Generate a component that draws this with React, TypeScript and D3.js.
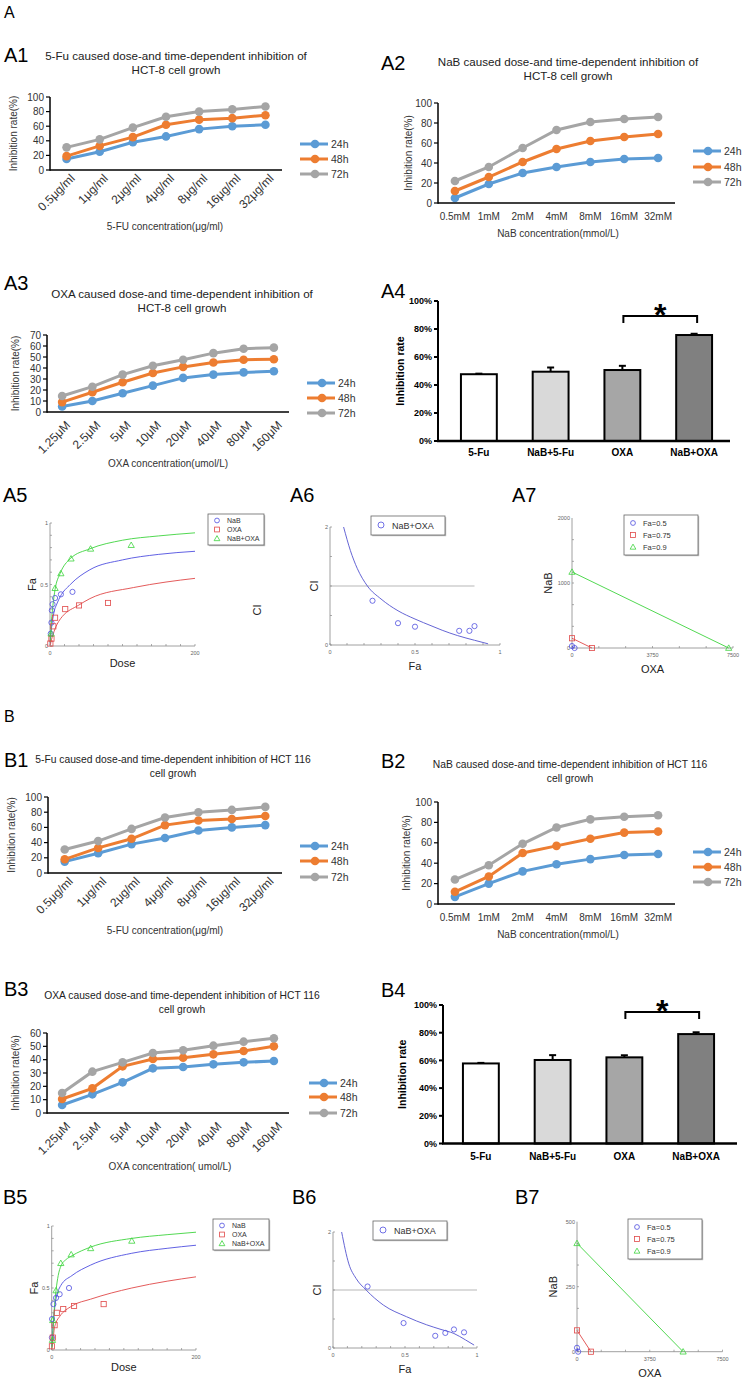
import React from "react";
import * as d3 from "d3";

const FONT = "'Liberation Sans', Arial, Helvetica, sans-serif";

// ---- line chart data (inhibition rate, %) ----
const times = ["24h", "48h", "72h"];
const timeColors = ["#5b9bd5", "#ed7d31", "#a5a5a5"];

const fuDoses = ["0.5μg/ml", "1μg/ml", "2μg/ml", "4μg/ml", "8μg/ml", "16μg/ml", "32μg/ml"];
const nabDoses = ["0.5mM", "1mM", "2mM", "4mM", "8mM", "16mM", "32mM"];
const oxaDoses = ["1.25μM", "2.5μM", "5μM", "10μM", "20μM", "40μM", "80μM", "160μM"];

const a1_24h = [15, 25, 38, 46, 56, 60, 62];
const a1_48h = [19, 33, 45, 62, 69, 71, 75];
const a1_72h = [31, 42, 58, 73, 80, 83, 87];

const a2_24h = [5, 19, 30, 36, 41, 44, 45];
const a2_48h = [12, 26, 41, 54, 62, 66, 69];
const a2_72h = [22, 36, 55, 73, 81, 84, 86];

const a3_24h = [5, 10, 17, 24, 31, 34, 36, 37];
const a3_48h = [9, 18, 27, 35.5, 41, 45, 47.5, 48];
const a3_72h = [14.5, 23, 34, 42, 47.5, 53.5, 57.5, 58.5];

const b1_24h = [15, 26, 38, 46, 56, 60, 63];
const b1_48h = [18, 33, 45, 63, 69, 71, 75];
const b1_72h = [31, 42, 58, 73, 80, 83, 87];

const b2_24h = [7, 20, 32, 39, 44, 48, 49];
const b2_48h = [12, 27, 50, 57, 64, 70, 71];
const b2_72h = [24, 38, 59, 75, 83, 85.5, 87];

const b3_24h = [6, 14, 23, 33.5, 34.5, 36.5, 38, 39];
const b3_48h = [10.5, 18.5, 35, 40.5, 41.5, 44, 46.5, 50];
const b3_72h = [15, 31, 38, 45, 47, 50.5, 53.5, 56];

// ---- bar chart data (inhibition rate, fraction) ----
const combos = ["5-Fu", "NaB+5-Fu", "OXA", "NaB+OXA"];
const comboFills = ["#ffffff", "#d9d9d9", "#a6a6a6", "#808080"];
const a4Values = [0.477, 0.495, 0.507, 0.757];
const a4Errors = [0.004, 0.03, 0.03, 0.009];
const b4Values = [0.578, 0.603, 0.622, 0.79];
const b4Errors = [0.004, 0.035, 0.015, 0.013];

// ---- CompuSyn dose-effect data [dose, Fa] ----
const a5NabCurve = [[0.3, 0.02], [1, 0.08], [2, 0.14], [5, 0.26], [10, 0.35], [14, 0.4], [28, 0.5], [55, 0.62], [100, 0.7], [150, 0.745], [200, 0.77]];
const a5OxaCurve = [[0.5, 0.01], [2, 0.05], [4, 0.09], [7, 0.14], [12, 0.2], [17, 0.24], [39, 0.33], [55, 0.385], [115, 0.475], [160, 0.52], [200, 0.55]];
const a5ComboCurve = [[0.3, 0.03], [1, 0.11], [2, 0.2], [4, 0.33], [7, 0.46], [14, 0.59], [28, 0.71], [55, 0.79], [100, 0.86], [150, 0.895], [200, 0.92]];
const a5NabPts = [[1, 0.1], [2, 0.19], [2.5, 0.29], [3.5, 0.34], [7, 0.39], [15, 0.42], [31, 0.44]];
const a5OxaPts = [[0.5, 0.02], [2, 0.06], [4.6, 0.16], [7, 0.23], [21, 0.3], [40, 0.33], [80, 0.35]];
const a5ComboPts = [[1.5, 0.1], [7, 0.47], [15, 0.59], [29, 0.71], [56, 0.79], [112, 0.82]];

const b5NabCurve = [[0.3, 0.03], [1, 0.11], [2, 0.2], [3.5, 0.3], [5, 0.38], [12.6, 0.52], [28, 0.6], [54, 0.685], [111, 0.78], [160, 0.82], [200, 0.845]];
const b5OxaCurve = [[0.3, 0.01], [1, 0.04], [2, 0.09], [3.3, 0.16], [6, 0.22], [11, 0.27], [28, 0.355], [54, 0.41], [111, 0.5], [160, 0.555], [200, 0.59]];
const b5ComboCurve = [[0.3, 0.02], [1, 0.08], [3, 0.28], [6, 0.48], [9, 0.6], [13, 0.68], [20, 0.73], [28, 0.76], [54, 0.83], [111, 0.9], [160, 0.93], [200, 0.95]];
const b5NabPts = [[0.3, 0.1], [0.5, 0.25], [2.4, 0.37], [6, 0.42], [11, 0.45], [24, 0.5]];
const b5OxaPts = [[0.3, 0.03], [1.5, 0.1], [4, 0.2], [7, 0.3], [16, 0.33], [31, 0.355], [72, 0.37]];
const b5ComboPts = [[1, 0.08], [1.4, 0.24], [6, 0.48], [12.6, 0.7], [27, 0.77], [54, 0.82], [111, 0.88]];

// ---- CI data [Fa, CI] ----
const a6Curve = [[0.08, 2.0], [0.12, 1.6], [0.16, 1.3], [0.22, 1.0], [0.3, 0.78], [0.4, 0.58], [0.5, 0.44], [0.6, 0.32], [0.66, 0.25], [0.75, 0.16], [0.85, 0.08], [0.93, 0.02]];
const a6Pts = [[0.25, 0.75], [0.4, 0.37], [0.5, 0.31], [0.76, 0.24], [0.82, 0.24], [0.85, 0.32]];
const b6Curve = [[0.06, 2.0], [0.11, 1.45], [0.16, 1.2], [0.23, 1.0], [0.35, 0.74], [0.51, 0.54], [0.65, 0.4], [0.75, 0.32], [0.84, 0.25], [0.92, 0.14], [0.98, 0.05]];
const b6Pts = [[0.24, 1.06], [0.49, 0.43], [0.71, 0.21], [0.78, 0.26], [0.84, 0.32], [0.91, 0.27]];

// ---- isobologram data: doses for Fa = 0.5, 0.75, 0.9 ----
const isoLabels = ["Fa=0.5", "Fa=0.75", "Fa=0.9"];
const a7Nab = [30, 150, 1170];
const a7Oxa = [120, 930, 7300];
const b7Nab = [15, 82, 417];
const b7Oxa = [60, 720, 5470];

const cBlue = "#4f4fe0";
const cRed = "#e04848";
const cGreen = "#3ed43e";
const shapes = ["circle", "square", "triangle"];
const csColors = [cBlue, cRed, cGreen];
const csNames = ["NaB", "OXA", "NaB+OXA"];

function Label({ x, y, text, size = 20 }) {
    return (
        <text x={x} y={y} fontSize={size} fontFamily={FONT} fill="#000">
            {text}
        </text>
    );
}

function LineChart(props) {
    const {
        cats, series, x0, x1, y0, y1, yMax, yStep, rotate, labelDy = 9, title, titleX, titleY,
        titleSize, legX, legY, ylabX, axisTitle, axisTitleY, axisTitleX
    } = props;
    const x = d3.scalePoint().domain(cats).range([x0, x1]).padding(0.5);
    const y = d3.scaleLinear().domain([0, yMax]).range([y0, y1]);
    const line = d3
        .line()
        .x((d, i) => x(cats[i]))
        .y(d => y(d));
    const ticks = d3.range(0, yMax + 0.01, yStep);
    return (
        <g fontFamily={FONT}>
            {title.map((t, i) => (
                <text key={i} x={titleX} y={titleY + i * 14} fontSize={titleSize} textAnchor="middle" fill="#222">
                    {t}
                </text>
            ))}
            {series.map((s, k) => (
                <g key={k}>
                    <path d={line(s)} fill="none" stroke={timeColors[k]} strokeWidth={3} />
                    {s.map((v, i) => (
                        <circle key={i} cx={x(cats[i])} cy={y(v)} r={4.3} fill={timeColors[k]} />
                    ))}
                </g>
            ))}
            <line x1={x0} x2={x0} y1={y0 + 0.75} y2={y1} stroke="#000" strokeWidth={1.5} />
            <line x1={x0} x2={x1} y1={y0} y2={y0} stroke="#000" strokeWidth={1.5} />
            {ticks.map(t => (
                <g key={t}>
                    <line x1={x0 - 4} x2={x0} y1={y(t)} y2={y(t)} stroke="#000" strokeWidth={1.2} />
                    <text x={x0 - 6} y={y(t) + 3.6} fontSize={10} textAnchor="end" fill="#333">
                        {t}
                    </text>
                </g>
            ))}
            {cats.map(c =>
                rotate ? (
                    <text
                        key={c}
                        transform={`translate(${x(c) + 9},${y0 + labelDy}) rotate(-45)`}
                        fontSize={12}
                        textAnchor="end"
                        fill="#333"
                    >
                        {c}
                    </text>
                ) : (
                    <text key={c} x={x(c)} y={y0 + 17} fontSize={10} textAnchor="middle" fill="#333">
                        {c}
                    </text>
                )
            )}
            <text
                transform={`translate(${ylabX},${(y0 + y1) / 2}) rotate(-90)`}
                fontSize={10}
                textAnchor="middle"
                fill="#333"
            >
                Inhibition rate(%)
            </text>
            <text x={axisTitleX} y={axisTitleY} fontSize={10} textAnchor="middle" fill="#333">
                {axisTitle}
            </text>
            {times.map((t, k) => (
                <g key={t}>
                    <line x1={legX} x2={legX + 28} y1={legY[k]} y2={legY[k]} stroke={timeColors[k]} strokeWidth={3} />
                    <circle cx={legX + 15} cy={legY[k]} r={4.3} fill={timeColors[k]} />
                    <text x={legX + 31} y={legY[k] + 3.8} fontSize={10.5} fill="#333">
                        {t}
                    </text>
                </g>
            ))}
        </g>
    );
}

function BarChart({ vals, errs, y0, y1, axisX, axisEnd, range, bracketAt, ylabX, catY }) {
    const x = d3.scaleBand().domain(combos).range(range).paddingInner(0.5).paddingOuter(0.25);
    const y = d3.scaleLinear().domain([0, 1]).range([y0, y1]);
    const ticks = d3.range(0, 1.01, 0.2);
    const bx1 = x("OXA") + x.bandwidth() / 2 + 1;
    const bx2 = x("NaB+OXA") + x.bandwidth() / 2 + 3;
    const by = y(bracketAt);
    return (
        <g fontFamily={FONT}>
            {combos.map((c, i) => (
                <g key={c}>
                    <line
                        x1={x(c) + x.bandwidth() / 2}
                        x2={x(c) + x.bandwidth() / 2}
                        y1={y(vals[i])}
                        y2={y(vals[i] + errs[i])}
                        stroke="#000"
                        strokeWidth={2}
                    />
                    <line
                        x1={x(c) + x.bandwidth() / 2 - 3.5}
                        x2={x(c) + x.bandwidth() / 2 + 3.5}
                        y1={y(vals[i] + errs[i])}
                        y2={y(vals[i] + errs[i])}
                        stroke="#000"
                        strokeWidth={2}
                    />
                    <rect
                        x={x(c)}
                        y={y(vals[i])}
                        width={x.bandwidth()}
                        height={y0 - y(vals[i])}
                        fill={comboFills[i]}
                        stroke="#000"
                        strokeWidth={2}
                    />
                    <text x={x(c) + x.bandwidth() / 2} y={catY} fontSize={10} fontWeight="bold" textAnchor="middle">
                        {c}
                    </text>
                </g>
            ))}
            <line x1={axisX} x2={axisX} y1={y0} y2={y1} stroke="#000" strokeWidth={2} />
            <line x1={axisX - 1} x2={axisEnd} y1={y0} y2={y0} stroke="#000" strokeWidth={2.5} />
            {ticks.map(t => (
                <g key={t}>
                    <line x1={axisX - 4} x2={axisX} y1={y(t)} y2={y(t)} stroke="#000" strokeWidth={2} />
                    <text x={axisX - 6} y={y(t) + 3.3} fontSize={9} fontWeight="bold" textAnchor="end">
                        {d3.format(".0%")(t)}
                    </text>
                </g>
            ))}
            <text
                transform={`translate(${ylabX},${(y0 + y1) / 2}) rotate(-90)`}
                fontSize={10.5}
                fontWeight="bold"
                textAnchor="middle"
            >
                Inhibition rate
            </text>
            <path
                d={`M${bx1},${by + 7}V${by}H${bx2}V${by + 7}`}
                fill="none"
                stroke="#000"
                strokeWidth={2}
            />
            <text x={(bx1 + bx2) / 2} y={by + 10} fontSize={32} fontWeight="bold" textAnchor="middle">
                *
            </text>
        </g>
    );
}

function Marker({ shape, cx, cy, color, s = 2.6 }) {
    if (shape === "circle")
        return <circle cx={cx} cy={cy} r={s} fill="none" stroke={color} strokeWidth={0.8} />;
    if (shape === "square")
        return <rect x={cx - s} y={cy - s} width={2 * s} height={2 * s} fill="none" stroke={color} strokeWidth={0.8} />;
    return (
        <path
            d={`M${cx},${cy - s * 1.2}L${cx + s * 1.2},${cy + s * 0.9}L${cx - s * 1.2},${cy + s * 0.9}Z`}
            fill="none"
            stroke={color}
            strokeWidth={0.8}
        />
    );
}

function SmallAxes({ xs, ys, xTicks, yTicks, xLabels, yLabels, xTitle, yTitle, xTitleY, yTitleX }) {
    const [X0, X1] = xs.range();
    const [Y0, Y1] = ys.range();
    return (
        <g fontFamily={FONT}>
            <line x1={X0} x2={X1} y1={Y0} y2={Y0} stroke="#888" strokeWidth={0.8} />
            <line x1={X0} x2={X0} y1={Y0} y2={Y1} stroke="#888" strokeWidth={0.8} />
            {xTicks.map((v, i) => (
                <line key={i} x1={xs(v)} x2={xs(v)} y1={Y0} y2={Y0 - 2} stroke="#888" strokeWidth={0.7} />
            ))}
            {yTicks.map((v, i) => (
                <line key={i} x1={X0} x2={X0 + 2} y1={ys(v)} y2={ys(v)} stroke="#888" strokeWidth={0.7} />
            ))}
            {xLabels.map((v, i) => (
                <text key={i} x={xs(v)} y={Y0 + 9} fontSize={5.5} textAnchor="middle" fill="#666">
                    {v}
                </text>
            ))}
            {yLabels.map((v, i) => (
                <text key={i} x={X0 - 2} y={ys(v) + 2} fontSize={5.5} textAnchor="end" fill="#666">
                    {v}
                </text>
            ))}
            <text x={(X0 + X1) / 2} y={xTitleY} fontSize={11} textAnchor="middle" fill="#222">
                {xTitle}
            </text>
            <text
                transform={`translate(${yTitleX},${(Y0 + Y1) / 2}) rotate(-90)`}
                fontSize={11}
                textAnchor="middle"
                fill="#222"
            >
                {yTitle}
            </text>
        </g>
    );
}

function LegendBox({ x, y, w, rowH, names, fs = 7 }) {
    const h = rowH * names.length + 4;
    return (
        <g fontFamily={FONT}>
            <rect x={x + 1.2} y={y + 1.2} width={w} height={h} fill="#bbb" />
            <rect x={x} y={y} width={w} height={h} fill="#fff" stroke="#666" strokeWidth={0.8} />
            {names.map((n, i) => (
                <g key={n}>
                    <Marker shape={shapes[i]} cx={x + 9} cy={y + 2 + rowH * (i + 0.5)} color={csColors[i]} s={2.4} />
                    <text x={x + 19} y={y + 2 + rowH * (i + 0.5) + fs * 0.36} fontSize={fs} fill="#333">
                        {n}
                    </text>
                </g>
            ))}
        </g>
    );
}

function DoseEffect({ x0, x1, y0, y1, curves, pts, legX, legY }) {
    const xs = d3.scaleLinear().domain([0, 200]).range([x0, x1]);
    const ys = d3.scaleLinear().domain([0, 1]).range([y0, y1]);
    const line = d3
        .line()
        .x(d => xs(d[0]))
        .y(d => ys(d[1]))
        .curve(d3.curveMonotoneX);
    return (
        <g>
            <SmallAxes
                xs={xs}
                ys={ys}
                xTicks={d3.range(0, 201, 20)}
                yTicks={d3.range(0, 1.01, 0.1)}
                xLabels={[0, 200]}
                yLabels={[0, 0.5, 1]}
                xTitle="Dose"
                yTitle="Fa"
                xTitleY={y0 + 21}
                yTitleX={x0 - 14}
            />
            {curves.map((c, k) => (
                <path key={k} d={line(c)} fill="none" stroke={csColors[k]} strokeWidth={0.9} />
            ))}
            {pts.map((p, k) =>
                p.map((d, i) => <Marker key={k + "-" + i} shape={shapes[k]} cx={xs(d[0])} cy={ys(d[1])} color={csColors[k]} />)
            )}
            <LegendBox x={legX} y={legY} w={56} rowH={9} names={csNames} />
        </g>
    );
}

function CIPlot({ x0, x1, y0, y1, curve, pts, refEnd, legX, legY }) {
    const xs = d3.scaleLinear().domain([0, 1]).range([x0, x1]);
    const ys = d3.scaleLinear().domain([0, 2]).range([y0, y1]);
    const line = d3
        .line()
        .x(d => xs(d[0]))
        .y(d => ys(d[1]))
        .curve(d3.curveMonotoneX);
    return (
        <g fontFamily={FONT}>
            <SmallAxes
                xs={xs}
                ys={ys}
                xTicks={d3.range(0, 1.01, 0.1)}
                yTicks={d3.range(0, 2.01, 0.5)}
                xLabels={[0, 0.5, 1]}
                yLabels={[0, 2]}
                xTitle="Fa"
                yTitle="CI"
                xTitleY={y0 + 25}
                yTitleX={x0 - 12}
            />
            <line x1={x0} x2={xs(refEnd)} y1={ys(1)} y2={ys(1)} stroke="#999" strokeWidth={0.7} />
            <path d={line(curve)} fill="none" stroke="#5353cf" strokeWidth={0.9} />
            {pts.map((d, i) => (
                <Marker key={i} shape="circle" cx={xs(d[0])} cy={ys(d[1])} color={cBlue} />
            ))}
            <rect x={legX + 1.2} y={legY + 1.2} width={74} height={19} fill="#bbb" />
            <rect x={legX} y={legY} width={74} height={19} fill="#fff" stroke="#666" strokeWidth={0.8} />
            <Marker shape="circle" cx={legX + 10} cy={legY + 9} color={cBlue} s={3} />
            <text x={legX + 21} y={legY + 12.5} fontSize={9} fill="#333">
                NaB+OXA
            </text>
        </g>
    );
}

function Isobologram({ x0, x1, y0, y1, yMax, nab, oxa, legX, legY }) {
    const xs = d3.scaleLinear().domain([0, 7500]).range([x0, x1]);
    const ys = d3.scaleLinear().domain([0, yMax]).range([y0, y1]);
    return (
        <g>
            <SmallAxes
                xs={xs}
                ys={ys}
                xTicks={d3.range(0, 7501, 1250)}
                yTicks={d3.range(0, 6).map(i => (yMax * i) / 6)}
                xLabels={[0, 3750, 7500]}
                yLabels={[0, yMax / 2, yMax]}
                xTitle="OXA"
                yTitle="NaB"
                xTitleY={y0 + 25}
                yTitleX={x0 - 20}
            />
            {nab.map((n, k) => (
                <g key={k}>
                    <line x1={xs(0)} y1={ys(n)} x2={xs(oxa[k])} y2={ys(0)} stroke={csColors[k]} strokeWidth={0.9} />
                    <Marker shape={shapes[k]} cx={xs(0)} cy={ys(n)} color={csColors[k]} />
                    <Marker shape={shapes[k]} cx={xs(oxa[k])} cy={ys(0)} color={csColors[k]} />
                </g>
            ))}
            <LegendBox x={legX} y={legY} w={74} rowH={12} names={isoLabels} fs={7.5} />
        </g>
    );
}

export default function App() {
    return (
        <svg
            width={745}
            height={1388}
            style={{ position: "absolute", left: 0, top: 0, background: "#fff" }}
        >
            <rect width={745} height={1388} fill="#fff" />
            <Label x={4} y={18} text="A" size={16} />
            <Label x={4} y={62} text="A1" />
            <LineChart
                cats={fuDoses}
                series={[a1_24h, a1_48h, a1_72h]}
                x0={50} x1={282} y0={170} y1={97} yMax={100} yStep={20} rotate labelDy={9}
                title={["5-Fu caused dose-and time-dependent inhibition of", "HCT-8 cell growh"]}
                titleX={176} titleY={60} titleSize={11.6}
                legX={300} legY={[144, 159, 174]} ylabX={17}
                axisTitle="5-FU concentration(μg/ml)" axisTitleX={165} axisTitleY={229.5}
            />
            <Label x={381} y={70} text="A2" />
            <LineChart
                cats={nabDoses}
                series={[a2_24h, a2_48h, a2_72h]}
                x0={438} x1={675} y0={203} y1={103} yMax={100} yStep={20}
                title={["NaB caused dose-and time-dependent inhibition of", "HCT-8 cell growh"]}
                titleX={568} titleY={65.5} titleSize={11.6}
                legX={693} legY={[151, 167, 182]} ylabX={412}
                axisTitle="NaB concentration(mmol/L)" axisTitleX={558} axisTitleY={236.5}
            />
            <Label x={4} y={290} text="A3" />
            <LineChart
                cats={oxaDoses}
                series={[a3_24h, a3_48h, a3_72h]}
                x0={47} x1={289} y0={412} y1={335} yMax={70} yStep={10} rotate labelDy={14}
                title={["OXA caused dose-and time-dependent inhibition of", "HCT-8 cell growh"]}
                titleX={182} titleY={298} titleSize={11.6}
                legX={307} legY={[383, 398, 413]} ylabX={19}
                axisTitle="OXA concentration(umol/L)" axisTitleX={168} axisTitleY={466.5}
            />
            <Label x={381} y={298} text="A4" />
            <BarChart
                vals={a4Values} errs={a4Errors}
                y0={441} y1={301} axisX={438} axisEnd={730} range={[443, 730]}
                bracketAt={0.893} ylabX={404} catY={456}
            />
            <Label x={3} y={502} text="A5" />
            <DoseEffect
                x0={50} x1={195} y0={646} y1={523}
                curves={[a5NabCurve, a5OxaCurve, a5ComboCurve]}
                pts={[a5NabPts, a5OxaPts, a5ComboPts]}
                legX={208} legY={514}
            />
            <text transform="translate(261,610) rotate(-90)" fontSize={11} fontFamily={FONT} textAnchor="middle" fill="#222">
                CI
            </text>
            <Label x={290} y={502} text="A6" />
            <CIPlot
                x0={330} x1={500} y0={645} y1={527}
                curve={a6Curve} pts={a6Pts} refEnd={0.85}
                legX={371} legY={516}
            />
            <Label x={512} y={502} text="A7" />
            <Isobologram
                x0={572} x1={733} y0={648} y1={518} yMax={2000}
                nab={a7Nab} oxa={a7Oxa}
                legX={624} legY={515}
            />

            <Label x={4} y={722} text="B" size={16} />
            <Label x={4} y={767} text="B1" />
            <LineChart
                cats={fuDoses}
                series={[b1_24h, b1_48h, b1_72h]}
                x0={48} x1={282} y0={873} y1={797} yMax={100} yStep={20} rotate labelDy={9}
                title={["5-Fu caused dose-and time-dependent inhibition of HCT 116", "cell growh"]}
                titleX={173} titleY={762.5} titleSize={10.3}
                legX={300} legY={[846, 861, 877]} ylabX={15}
                axisTitle="5-FU concentration(μg/ml)" axisTitleX={165} axisTitleY={933.5}
            />
            <Label x={381} y={768} text="B2" />
            <LineChart
                cats={nabDoses}
                series={[b2_24h, b2_48h, b2_72h]}
                x0={438} x1={675} y0={904} y1={802} yMax={100} yStep={20}
                title={["NaB caused dose-and time-dependent inhibition of HCT 116", "cell growh"]}
                titleX={570} titleY={767.5} titleSize={10.3}
                legX={693} legY={[852, 867, 882]} ylabX={410}
                axisTitle="NaB concentration(mmol/L)" axisTitleX={558} axisTitleY={937.5}
            />
            <Label x={4} y={996} text="B3" />
            <LineChart
                cats={oxaDoses}
                series={[b3_24h, b3_48h, b3_72h]}
                x0={47} x1={289} y0={1113} y1={1033} yMax={60} yStep={10} rotate labelDy={14}
                title={["OXA caused dose-and time-dependent inhibition of HCT 116", "cell growh"]}
                titleX={182} titleY={998.5} titleSize={10.3}
                legX={309} legY={[1083, 1097, 1113]} ylabX={19}
                axisTitle="OXA concentration( umol/L)" axisTitleX={170} axisTitleY={1169.5}
            />
            <Label x={381} y={997} text="B4" />
            <BarChart
                vals={b4Values} errs={b4Errors}
                y0={1143.5} y1={1005} axisX={443} axisEnd={737} range={[445, 732]}
                bracketAt={0.95} ylabX={406} catY={1160}
            />
            <Label x={3} y={1204} text="B5" />
            <DoseEffect
                x0={51.7} x1={196} y0={1350} y1={1226}
                curves={[b5NabCurve, b5OxaCurve, b5ComboCurve]}
                pts={[b5NabPts, b5OxaPts, b5ComboPts]}
                legX={213} legY={1219}
            />
            <Label x={292} y={1204} text="B6" />
            <CIPlot
                x0={333} x1={477} y0={1348} y1={1232}
                curve={b6Curve} pts={b6Pts} refEnd={1}
                legX={373} legY={1221}
            />
            <Label x={515} y={1204} text="B7" />
            <Isobologram
                x0={577} x1={722.5} y0={1351.7} y1={1221.7} yMax={500}
                nab={b7Nab} oxa={b7Oxa}
                legX={628} legY={1219}
            />
        </svg>
    );
}
